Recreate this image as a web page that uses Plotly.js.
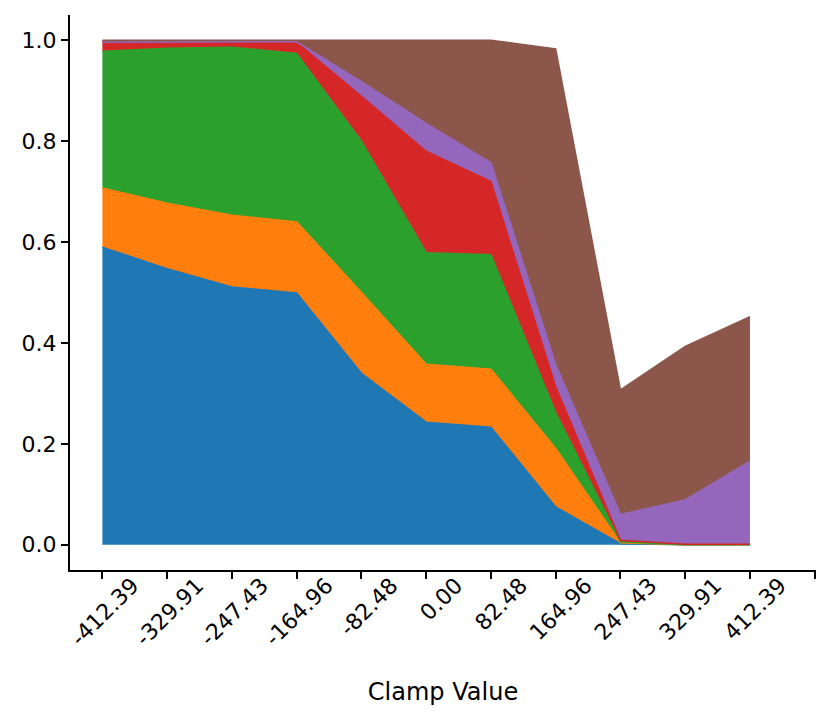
<!DOCTYPE html>
<html>
<head>
<meta charset="utf-8">
<script src="https://cdn.plot.ly/plotly-3.0.1.min.js"></script>
<style>html,body{margin:0;padding:0;background:#fff;}#chart{width:830px;height:718px;}</style>
</head>
<body>
<div id="chart"></div>
<script>
const clampValues = [-412.39, -329.91, -247.43, -164.96, -82.48, 0.00, 82.48, 164.96, 247.43, 329.91, 412.39];
const tickLabels = ["-412.39", "-329.91", "-247.43", "-164.96", "-82.48", "0.00", "82.48", "164.96", "247.43", "329.91", "412.39"];
const extraTick = 494.87;

const seriesBlue   = [0.590, 0.547, 0.511, 0.499, 0.340, 0.243, 0.233, 0.075, 0.002, 0.000, 0.000];
const seriesOrange = [0.117, 0.130, 0.142, 0.141, 0.160, 0.115, 0.115, 0.116, 0.002, 0.000, 0.000];
const seriesGreen  = [0.271, 0.307, 0.333, 0.334, 0.300, 0.221, 0.227, 0.071, 0.002, 0.000, 0.000];
const seriesRed    = [0.018, 0.012, 0.010, 0.022, 0.089, 0.201, 0.145, 0.051, 0.003, 0.001, 0.001];
const seriesPurple = [0.000, 0.000, 0.000, 0.001, 0.029, 0.055, 0.037, 0.044, 0.051, 0.088, 0.165];
const seriesBrown  = [0.004, 0.004, 0.004, 0.003, 0.082, 0.165, 0.243, 0.626, 0.247, 0.304, 0.286];

const series = [seriesBlue, seriesOrange, seriesGreen, seriesRed, seriesPurple, seriesBrown];
const colors = ["#1f77b4", "#ff7f0e", "#2ca02c", "#d62728", "#9467bd", "#8c564b"];

const traces = series.map((vals, i) => ({
  x: clampValues,
  y: vals,
  type: "scatter",
  mode: "lines",
  stackgroup: "one",
  line: {color: colors[i], width: 1.5},
  fillcolor: colors[i],
  hoverinfo: "skip",
  showlegend: false
}));

const fontFam = "DejaVu Sans, sans-serif";
const layout = {
  width: 830, height: 718,
  margin: {l: 70, r: 14, t: 15, b: 148},
  paper_bgcolor: "#fff", plot_bgcolor: "#fff",
  showlegend: false,
  font: {family: fontFam, size: 22, color: "#000"},
  xaxis: {
    range: [-453.63, 496.5],
    tickvals: clampValues.concat([extraTick]),
    ticktext: tickLabels.concat([""]),
    tickangle: -45,
    ticklabelshift: 30,
    ticklabelstandoff: -15,
    ticks: "outside", ticklen: 7, tickwidth: 2, tickcolor: "#000",
    showline: true, linecolor: "#000", linewidth: 2,
    showgrid: false, zeroline: false,
    tickfont: {family: fontFam, size: 22, color: "#000"},
    title: {text: "Clamp Value", font: {family: fontFam, size: 24, color: "#000"}, standoff: 33}
  },
  yaxis: {
    range: [-0.05, 1.05],
    tickvals: [0, 0.2, 0.4, 0.6, 0.8, 1.0],
    tickformat: ".1f",
    ticks: "outside", ticklen: 7, tickwidth: 2, tickcolor: "#000",
    showline: true, linecolor: "#000", linewidth: 2,
    showgrid: false, zeroline: false,
    tickfont: {family: fontFam, size: 22, color: "#000"}
  }
};

Plotly.newPlot("chart", traces, layout, {staticPlot: true, displayModeBar: false});
</script>
</body>
</html>
